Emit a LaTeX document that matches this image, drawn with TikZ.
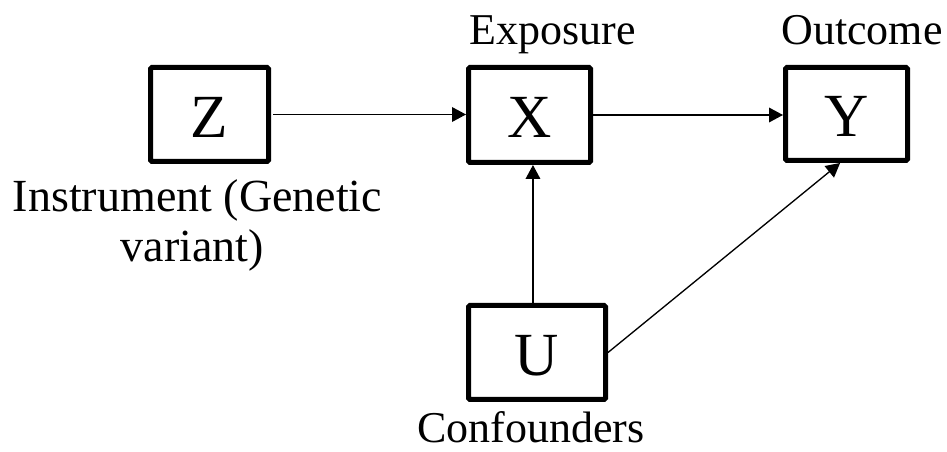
\documentclass[tikz,border=0pt]{standalone}
\usepackage{fontspec}
\setmainfont{Liberation Serif}
\usetikzlibrary{arrows.meta,calc}
\begin{document}
\begin{tikzpicture}[x=0.75pt,y=-0.75pt,
  varbox/.style={draw=black,line width=3.75pt,rectangle,rounded corners=1pt,inner sep=0pt,
    text height=34.2pt,text depth=0pt,font=\fontsize{46}{50}\selectfont},
  lbl/.style={inner sep=0pt,font=\fontsize{33}{40}\selectfont,anchor=base},
  arr/.style={draw=black,line width=1pt,-{Triangle[length=10.5pt,width=11pt]}}]
\useasboundingbox (0,0) rectangle (947,452);
\node[varbox,minimum width=88.5pt,minimum height=70.5pt] (Z) at (209.5,114.5) {Z};
\node[varbox,minimum width=91.5pt,minimum height=71.25pt] (X) at (529.5,115) {X};
\node[varbox,minimum width=91.5pt,minimum height=69.75pt] (Y) at (846.5,114) {Y};
\node[varbox,minimum width=102.75pt,minimum height=70.5pt] (U) at (537,352.5) {U};
\node[lbl] (lx) at (553,45) {Exposure};
\node[lbl] (ly) at (862,45) {Outcome};
\node[lbl,font=\fontsize{34.5}{40}\selectfont] (lz1) at (197.5,212) {Instrument (Genetic};
\node[lbl,font=\fontsize{34.5}{40}\selectfont] (lz2) at (192.5,262) {variant)};
\node[lbl] (lu) at (531,443) {Confounders};
\path ([xshift=2.6pt]X.south) coordinate (xs);
\path ([xshift=-4.8pt]Y.south) coordinate (ys);
\draw[arr] ([xshift=1.5pt]Z.east) -- (Z.east -| X.west);
\draw[arr] (X.east) -- (X.east -| Y.west);
\draw[arr] (U.north -| xs) -- (xs);
\draw[arr] (U.east) -- (ys);
\end{tikzpicture}
\end{document}
